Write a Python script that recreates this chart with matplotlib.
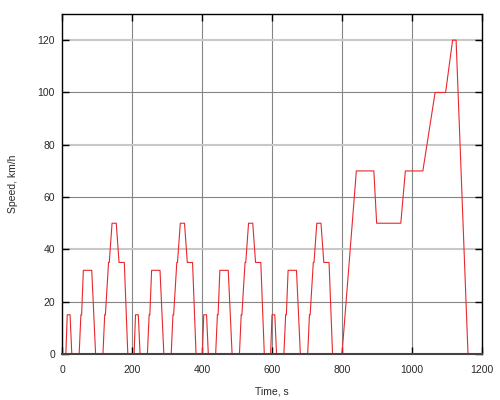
import matplotlib
matplotlib.use('Agg')
import matplotlib.pyplot as plt

# NEDC speed trace: four ECE-15 urban cycles followed by the EUDC part
time_s = [0, 11, 15, 23, 28, 49, 54, 56, 61, 85, 96, 117, 122, 124, 133, 135, 143, 155, 163, 178, 188,
          206, 210, 218, 223, 244, 249, 251, 256, 280, 291, 312, 317, 319, 328, 330, 338, 350, 358, 373, 383,
          401, 405, 413, 418, 439, 444, 446, 451, 475, 486, 507, 512, 514, 523, 525, 533, 545, 553, 568, 578,
          596, 600, 608, 613, 634, 639, 641, 646, 670, 681, 702, 707, 709, 718, 720, 728, 740, 748, 763, 773,
          800, 841, 891, 899, 968, 981, 1031, 1066, 1096, 1116, 1126, 1160, 1180]
speed_kmh = [0, 0, 15, 15, 0, 0, 15, 15, 32, 32, 0, 0, 15, 15, 35, 35, 50, 50, 35, 35, 0,
             0, 15, 15, 0, 0, 15, 15, 32, 32, 0, 0, 15, 15, 35, 35, 50, 50, 35, 35, 0,
             0, 15, 15, 0, 0, 15, 15, 32, 32, 0, 0, 15, 15, 35, 35, 50, 50, 35, 35, 0,
             0, 15, 15, 0, 0, 15, 15, 32, 32, 0, 0, 15, 15, 35, 35, 50, 50, 35, 35, 0,
             0, 70, 70, 50, 50, 70, 70, 100, 100, 120, 120, 0, 0]

x_ticks = [0, 200, 400, 600, 800, 1000, 1200]
y_ticks = [0, 20, 40, 60, 80, 100, 120]

plt.rcParams['font.family'] = ['Liberation Sans', 'DejaVu Sans']
plt.rcParams['font.size'] = 7.5

fig = plt.figure(figsize=(5, 4), dpi=100)
ax = fig.add_axes([0.124, 0.115, 0.84, 0.85])

# grid, drawn by hand so the blurred look of some lines can be copied
for xv in x_ticks[1:-1]:
    ax.axvline(xv, color='#858585', lw=0.8, zorder=1)
for yv in y_ticks[1:]:
    if yv % 40 == 0:
        ax.axhline(yv, color='#c8c8c8', lw=1.5, zorder=1)
    else:
        ax.axhline(yv, color='#858585', lw=0.8, zorder=1)

ax.plot(time_s, speed_kmh, color='#e8282c', lw=0.8, zorder=2)

ax.set_xlim(0, 1200)
ax.set_ylim(0, 130)
ax.set_xticks(x_ticks)
ax.set_yticks(y_ticks)
ax.tick_params(direction='in', length=5, width=1, top=True, right=True, colors='black',
               labelcolor='#2a2a2a', labelsize=7.5)
ax.tick_params(axis='x', pad=8)
ax.tick_params(axis='y', pad=5)
for sp in ax.spines.values():
    sp.set_linewidth(1)
    sp.set_zorder(3)
ax.spines['bottom'].set_color('#444444')
ax.spines['bottom'].set_linewidth(1.5)

ax.set_xlabel('Time, s', fontsize=7.5, color='#2a2a2a', labelpad=8)
ax.set_ylabel('Speed, km/h', fontsize=7.5, color='#2a2a2a', labelpad=14)

plt.savefig('out.png', dpi=100)
print("saved out.png")
